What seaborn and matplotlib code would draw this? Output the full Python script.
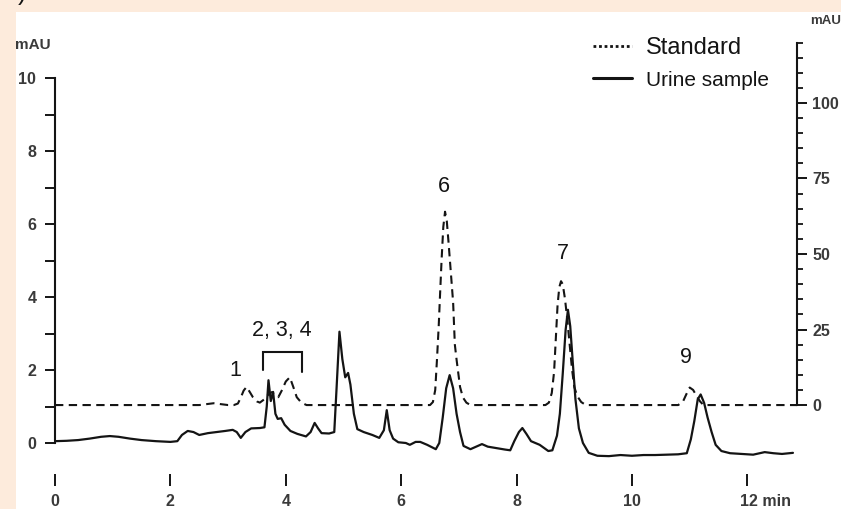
import matplotlib
matplotlib.use("Agg")
import matplotlib.pyplot as plt
import seaborn as sns
from matplotlib.lines import Line2D
from matplotlib.patches import Rectangle
from matplotlib.ticker import FixedLocator
from matplotlib.transforms import ScaledTranslation

# Urine sample trace: retention time (min) and absorbance (mAU, left axis)
urine_time = [0.00, 0.20, 0.40, 0.60, 0.80, 0.95, 1.10, 1.30, 1.50, 1.75,
              2.00, 2.12, 2.20, 2.30, 2.40, 2.50, 2.65, 2.80, 2.95, 3.08,
              3.15, 3.22, 3.30, 3.40, 3.55, 3.63, 3.67, 3.70, 3.74, 3.78,
              3.82, 3.86, 3.92, 3.98, 4.08, 4.20, 4.35, 4.43, 4.50, 4.56,
              4.62, 4.75, 4.84, 4.88, 4.93, 4.98, 5.03, 5.08, 5.12, 5.18,
              5.24, 5.35, 5.50, 5.62, 5.70, 5.75, 5.80, 5.86, 5.95, 6.08,
              6.15, 6.25, 6.33, 6.45, 6.60, 6.66, 6.72, 6.78, 6.84, 6.90,
              6.96, 7.02, 7.08, 7.20, 7.30, 7.40, 7.50, 7.65, 7.80, 7.89,
              7.96, 8.04, 8.10, 8.17, 8.25, 8.40, 8.55, 8.62, 8.70, 8.75,
              8.80, 8.85, 8.89, 8.93, 8.97, 9.02, 9.08, 9.15, 9.25, 9.40,
              9.60, 9.80, 10.00, 10.20, 10.40, 10.60, 10.80, 10.95, 11.02, 11.08,
              11.14, 11.19, 11.25, 11.31, 11.38, 11.45, 11.55, 11.70, 11.90, 12.10,
              12.30, 12.45, 12.60, 12.79]
urine_mau = [0.05, 0.06, 0.08, 0.12, 0.17, 0.19, 0.17, 0.12, 0.08, 0.05,
             0.03, 0.05, 0.22, 0.33, 0.30, 0.22, 0.27, 0.30, 0.33, 0.36,
             0.30, 0.14, 0.30, 0.40, 0.41, 0.43, 1.00, 1.72, 1.15, 1.40,
             0.80, 0.66, 0.68, 0.50, 0.33, 0.25, 0.18, 0.30, 0.55, 0.40,
             0.27, 0.26, 0.30, 1.50, 3.05, 2.30, 1.80, 1.92, 1.60, 0.80,
             0.38, 0.30, 0.22, 0.14, 0.35, 0.90, 0.35, 0.12, 0.02, 0.00,
             -0.05, 0.03, 0.03, -0.05, -0.17, 0.00, 0.70, 1.50, 1.86, 1.50,
             0.80, 0.30, -0.08, -0.17, -0.10, -0.03, -0.10, -0.14, -0.18, -0.20,
             0.05, 0.30, 0.41, 0.25, 0.05, -0.05, -0.22, -0.20, 0.20, 0.80,
             1.90, 3.10, 3.65, 3.20, 2.30, 1.20, 0.40, 0.00, -0.27, -0.35,
             -0.36, -0.33, -0.35, -0.33, -0.33, -0.32, -0.31, -0.28, 0.10, 0.60,
             1.20, 1.33, 1.10, 0.70, 0.30, -0.05, -0.22, -0.28, -0.30, -0.32,
             -0.25, -0.28, -0.30, -0.27]

# Standard mixture trace: retention time (min) and absorbance (mAU, right axis)
std_time = [0.00, 2.50, 2.75, 3.00, 3.10, 3.17, 3.22, 3.27, 3.32, 3.37,
            3.43, 3.50, 3.55, 3.62, 3.70, 3.76, 3.82, 3.87, 3.93, 4.00,
            4.07, 4.13, 4.19, 4.27, 4.36, 6.50, 6.55, 6.59, 6.62, 6.65,
            6.67, 6.70, 6.73, 6.76, 6.79, 6.82, 6.86, 6.90, 6.93, 6.96,
            6.98, 7.02, 7.07, 7.13, 7.20, 8.50, 8.56, 8.61, 8.65, 8.68,
            8.71, 8.74, 8.77, 8.80, 8.84, 8.88, 8.92, 8.96, 9.00, 9.05,
            9.12, 9.20, 10.80, 10.88, 10.94, 11.00, 11.06, 11.12, 11.18, 11.24,
            12.86]
std_mau = [0.0, 0.0, 0.6, 0.0, 0.0, 0.5, 2.5, 4.8, 6.0, 4.5,
           2.6, 1.2, 0.8, 1.8, 3.5, 4.3, 3.2, 2.6, 4.8, 7.8,
           9.2, 6.0, 2.6, 0.8, 0.0, 0.0, 1.0, 5.0, 15.0, 26.0,
           35.0, 48.0, 59.0, 64.0, 61.0, 54.0, 44.0, 34.0, 20.0, 15.0,
           12.0, 6.0, 2.5, 0.8, 0.0, 0.0, 0.8, 4.0, 11.0, 22.0,
           33.0, 39.0, 41.0, 40.0, 35.0, 28.0, 20.0, 12.0, 6.0, 3.0,
           1.0, 0.0, 0.0, 1.0, 3.5, 5.8, 5.0, 3.0, 1.2, 0.0,
           0.0]

# Peak numbers (placed in right-axis units) and the bracket over peaks 2-4
peak_labels = ["1", "2, 3, 4", "6", "7", "9"]
peak_label_time = [3.13, 3.93, 6.74, 8.80, 10.94]
peak_label_mau = [11.6, 24.8, 72.5, 50.3, 15.6]
bracket_time = [3.60, 3.60, 4.28, 4.28]
bracket_mau = [11.6, 17.5, 17.5, 10.9]

x_ticks = [0, 2, 4, 6, 8, 10, 12]
x_tick_labels = ["0", "2", "4", "6", "8", "10", "12 min"]
left_ticks = [0, 1, 2, 3, 4, 5, 6, 7, 8, 9, 10]
left_tick_labels = ["0", "", "2", "", "4", "", "6", "", "8", "", "10"]
right_ticks = [0, 25, 50, 75, 100]
right_minor_ticks = [5, 10, 15, 20, 30, 35, 40, 45, 55, 60, 65, 70,
                     80, 85, 90, 95, 105, 110, 115, 120]

sns.set_theme(style="ticks")
plt.rcParams["font.family"] = ["Liberation Sans", "DejaVu Sans"]

W, H = 841, 509
INK = "#141414"
TICK_TXT = "#3a3a3a"
fig = plt.figure(figsize=(W / 100, H / 100), dpi=100, facecolor="#FDEBDC")
fig.patches.append(Rectangle((16 / W, 0), 1 - 16 / W, (H - 12) / H,
                             transform=fig.transFigure, facecolor="white",
                             edgecolor="none", zorder=-5))


def fx(px):
    return px / W


def fy(py):
    return 1 - py / H


ax = fig.add_axes([fx(55), fy(470), fx(797) - fx(55), fy(35) - fy(470)])
ax.set_facecolor("none")
ax2 = ax.twinx()

sns.lineplot(x=urine_time, y=urine_mau, ax=ax, estimator=None, sort=False,
             color=INK, linewidth=1.6)
sns.lineplot(x=std_time, y=std_mau, ax=ax2, estimator=None, sort=False,
             color=INK, linewidth=1.5, linestyle=(0, (4, 2.6)))

ax.set_xlim(0, 12.86)
ax.set_ylim(-0.74, 11.18)
ax2.set_ylim(-21.5, 122.5)
for a in (ax, ax2):
    a.set_xlabel("")
    a.set_ylabel("")
    a.grid(False)

TICK_SIZE = 11.5

# left axis
for s in ("top", "right"):
    ax.spines[s].set_visible(False)
ax.spines["left"].set_bounds(0, 10)
ax.spines["left"].set_linewidth(1.5)
ax.spines["left"].set_color(INK)
ax.set_yticks(left_ticks)
ax.set_yticklabels(left_tick_labels)
ax.tick_params(axis="y", direction="out", length=7.5, width=1.4,
               color=INK, labelcolor=TICK_TXT, labelsize=TICK_SIZE, pad=6)
for t in ax.get_yticklabels():
    t.set_fontweight("bold")

# bottom axis: ticks only, no baseline
ax.spines["bottom"].set_position(("outward", 3))
ax.spines["bottom"].set_visible(False)
ax.set_xticks(x_ticks)
ax.set_xticklabels(x_tick_labels)
ax.tick_params(axis="x", direction="out", length=8.6, width=1.4,
               color=INK, labelcolor=TICK_TXT, labelsize=TICK_SIZE, pad=6)
for t in ax.get_xticklabels():
    t.set_fontweight("bold")
last = ax.get_xticklabels()[-1]
last.set_ha("left")
last.set_transform(last.get_transform() +
                   ScaledTranslation(-7 / 100, 0, fig.dpi_scale_trans))

# right axis
for s in ("top", "left", "bottom"):
    ax2.spines[s].set_visible(False)
ax2.spines["right"].set_bounds(0, 120)
ax2.spines["right"].set_linewidth(1.5)
ax2.spines["right"].set_color(INK)
ax2.set_yticks(right_ticks)
ax2.yaxis.set_minor_locator(FixedLocator(right_minor_ticks))
ax2.tick_params(axis="y", which="major", direction="out", length=7, width=1.4,
                color=INK, labelcolor=TICK_TXT, labelsize=TICK_SIZE, pad=4)
ax2.tick_params(axis="y", which="minor", direction="out", length=4.5,
                width=1.3, color=INK, right=True)
for t in ax2.get_yticklabels():
    t.set_fontweight("bold")

# peak annotations
for lab, t, v in zip(peak_labels, peak_label_time, peak_label_mau):
    ax2.text(t, v, lab, ha="center", va="center", fontsize=15.5, color=INK)
ax2.plot(bracket_time, bracket_mau, color=INK, linewidth=1.5,
         solid_joinstyle="miter")

# unit labels
fig.text(fx(15), fy(45), "mAU", ha="left", va="center", fontsize=11,
         fontweight="bold", color=TICK_TXT)
fig.text(fx(810), fy(21), "mAU", ha="left", va="center", fontsize=9.5,
         fontweight="bold", color=TICK_TXT)
fig.text(fx(18), fy(5), ")", ha="left", va="bottom", fontsize=18, color=INK)

# legend
handles = [Line2D([0], [0], color=INK, linewidth=2.0, linestyle=(0, (1, 1))),
           Line2D([0], [0], color=INK, linewidth=2.2)]
leg = fig.legend(handles, ["Standard", "Urine sample"], loc="upper left",
                 bbox_to_anchor=(fx(593), fy(37)), frameon=False,
                 borderpad=0, borderaxespad=0, fontsize=16,
                 handlelength=1.75, handletextpad=0.63, labelspacing=0.5)
leg.get_texts()[0].set_fontsize(17)
leg.get_texts()[1].set_fontsize(15)
for t in leg.get_texts():
    t.set_color(INK)

fig.savefig("out.png", dpi=100, facecolor=fig.get_facecolor())
